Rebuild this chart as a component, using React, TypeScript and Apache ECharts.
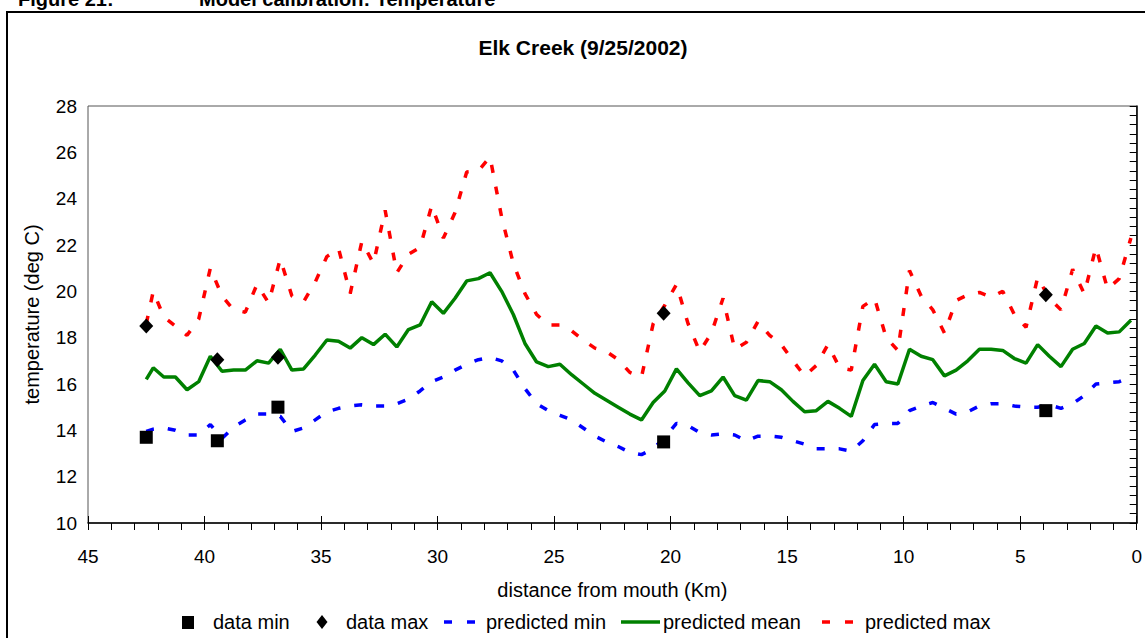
import React, { useEffect, useRef } from "react";
import * as echarts from "echarts";

// Model stations along Elk Creek, distance from mouth (km)
const distanceKm = [
  42.5, 42.2, 41.75, 41.25, 40.75, 40.25, 39.75, 39.25, 38.75, 38.25,
  37.75, 37.25, 36.75, 36.25, 35.75, 35.25, 34.75, 34.25, 33.75, 33.25,
  32.75, 32.25, 31.75, 31.25, 30.75, 30.25, 29.75, 29.25, 28.75, 28.25,
  27.75, 27.25, 26.75, 26.25, 25.75, 25.25, 24.75, 24.25, 23.75, 23.25,
  22.75, 22.25, 21.75, 21.25, 20.75, 20.25, 19.75, 19.25, 18.75, 18.25,
  17.75, 17.25, 16.75, 16.25, 15.75, 15.25, 14.75, 14.25, 13.75, 13.25,
  12.75, 12.25, 11.75, 11.25, 10.75, 10.25, 9.75, 9.25, 8.75, 8.25,
  7.75, 7.25, 6.75, 6.25, 5.75, 5.25, 4.75, 4.25, 3.75, 3.25,
  2.75, 2.25, 1.75, 1.25, 0.75, 0.25,
];

// Predicted daily minimum temperature (deg C)
const predictedMin = [
  13.95, 14.05, 14.1, 14.0, 13.8, 13.8, 14.25, 13.65, 14.15, 14.45,
  14.7, 14.7, 14.6, 13.95, 14.1, 14.45, 14.8, 14.95, 15.05, 15.1,
  15.05, 15.05, 15.15, 15.35, 15.7, 16.1, 16.3, 16.6, 16.85, 17.05,
  17.15, 17.0, 16.6, 15.8, 15.15, 14.85, 14.65, 14.45, 14.1, 13.75,
  13.5, 13.3, 13.05, 12.95, 13.2, 13.7, 14.3, 14.2, 13.9, 13.8,
  13.85, 13.8, 13.55, 13.75, 13.75, 13.7, 13.55, 13.4, 13.2, 13.2,
  13.2, 13.1, 13.55, 14.25, 14.3, 14.3, 14.85, 15.05, 15.2, 14.95,
  14.7, 14.8, 15.05, 15.15, 15.15, 15.05, 15.0, 15.0, 15.1, 14.95,
  15.15, 15.5, 16.0, 16.05, 16.1, 16.3,
];

// Predicted daily mean temperature (deg C)
const predictedMean = [
  16.2, 16.7, 16.3, 16.3, 15.75, 16.1, 17.2, 16.55, 16.6, 16.6,
  17.0, 16.9, 17.5, 16.6, 16.65, 17.25, 17.9, 17.85, 17.55, 18.0,
  17.7, 18.15, 17.6, 18.35, 18.55, 19.55, 19.05, 19.7, 20.45, 20.55,
  20.8, 20.0, 19.0, 17.75, 16.95, 16.75, 16.85, 16.4, 16.0, 15.6,
  15.3, 15.0, 14.7, 14.45, 15.2, 15.7, 16.65, 16.05, 15.5, 15.7,
  16.3, 15.5, 15.3, 16.15, 16.1, 15.75, 15.25, 14.8, 14.85, 15.25,
  14.95, 14.6, 16.15, 16.85, 16.1, 16.0, 17.5, 17.2, 17.05, 16.35,
  16.6, 17.0, 17.5, 17.5, 17.45, 17.1, 16.9, 17.7, 17.2, 16.75,
  17.5, 17.75, 18.5, 18.2, 18.25, 18.75,
];

// Predicted daily maximum temperature (deg C)
const predictedMax = [
  18.6, 20.0, 18.9, 18.5, 18.1, 18.8, 21.0, 19.8, 19.2, 19.1,
  20.3, 19.5, 21.4, 19.8, 19.55, 20.4, 21.5, 21.85, 19.9, 22.15,
  21.2, 23.5, 20.8, 21.6, 21.9, 23.7, 22.3, 23.4, 25.15, 25.2,
  25.8, 23.2, 21.2, 19.9, 19.0, 18.55, 18.55, 18.3, 17.9, 17.55,
  17.4, 17.05, 16.5, 16.3, 18.6, 19.4, 20.3, 18.6, 17.4, 18.2,
  19.7, 17.5, 17.8, 18.7, 18.1, 17.7, 17.0, 16.35, 16.8, 17.7,
  16.7, 16.6, 19.35, 19.7, 18.0, 17.45, 20.9, 19.8, 19.2, 18.2,
  19.6, 19.85, 19.95, 19.75, 20.0, 19.0, 18.45, 20.6, 19.7, 19.2,
  20.95, 19.9, 21.9, 20.1, 20.55, 22.3,
];

// Observed data at sampling sites
const sampleKm = [42.5, 39.45, 36.85, 20.3, 3.9];
const dataMin = [13.7, 13.55, 15.0, 13.5, 14.85];
const dataMax = [18.5, 17.05, 17.15, 19.05, 19.85];

const FONT = "'Liberation Sans', Arial, Helvetica, sans-serif";
const BLUE = "#0000ff";
const GREEN = "#008000";
const RED = "#ff0000";
const DASH = [8, 14];

const pairs = (xs: number[], ys: number[]) => xs.map((x, i) => [x, ys[i]]);

const legendText = (x: number, text: string) => ({
  type: "text",
  x,
  y: 622,
  style: { text, fontSize: 20, fontFamily: FONT, fill: "#000", verticalAlign: "middle", align: "left" },
});

const legendLine = (x1: number, x2: number, color: string) => ({
  type: "line",
  shape: { x1, y1: 622, x2, y2: 622 },
  style: { stroke: color, lineWidth: 3.5 },
});

export default function App() {
  const ref = useRef<HTMLDivElement>(null);

  useEffect(() => {
    const chart = echarts.init(ref.current!, null, { renderer: "svg" });
    const axisText = { fontSize: 19, color: "#000", fontFamily: FONT };
    chart.setOption({
      animation: false,
      backgroundColor: "#ffffff",
      grid: {
        left: 88,
        top: 106,
        width: 1049,
        height: 417,
        show: true,
        borderColor: "#555",
        borderWidth: 1,
        backgroundColor: "transparent",
      },
      xAxis: [
        {
          type: "value",
          min: 0,
          max: 45,
          interval: 5,
          inverse: true,
          position: "bottom",
          name: "distance from mouth (Km)",
          nameLocation: "middle",
          nameGap: 57,
          nameTextStyle: { fontSize: 20, color: "#000", fontFamily: FONT },
          axisLine: { show: true, onZero: false, lineStyle: { color: "#000", width: 1.5 } },
          axisTick: { show: true, length: 7, lineStyle: { color: "#000", width: 1 } },
          minorTick: { show: true, splitNumber: 5, length: 7, lineStyle: { color: "#000", width: 1 } },
          axisLabel: { ...axisText, margin: 24 },
          splitLine: { show: false },
          minorSplitLine: { show: false },
        },
        {
          type: "value",
          min: 0,
          max: 45,
          interval: 5,
          inverse: true,
          position: "bottom",
          axisLine: { show: false },
          axisTick: { show: true, inside: true, length: 7, lineStyle: { color: "#000", width: 1 } },
          axisLabel: { show: false },
          splitLine: { show: false },
        },
      ],
      yAxis: {
        type: "value",
        min: 10,
        max: 28,
        interval: 2,
        name: "temperature (deg C)",
        nameLocation: "middle",
        nameGap: 46,
        nameRotate: 90,
        nameTextStyle: { fontSize: 20, color: "#000", fontFamily: FONT },
        axisLine: { show: true, lineStyle: { color: "#000", width: 1.5 } },
        axisTick: { show: true, length: 7, lineStyle: { color: "#000", width: 1 } },
        minorTick: { show: true, splitNumber: 5, length: 7, lineStyle: { color: "#000", width: 1 } },
        axisLabel: { ...axisText, margin: 11 },
        splitLine: { show: false },
        minorSplitLine: { show: false },
      },
      series: [
        {
          name: "data min",
          type: "scatter",
          symbol: "rect",
          symbolSize: 13,
          itemStyle: { color: "#000", opacity: 1 },
          z: 4,
          data: pairs(sampleKm, dataMin),
        },
        {
          name: "data max",
          type: "scatter",
          symbol: "diamond",
          symbolSize: [14, 15],
          itemStyle: { color: "#000", opacity: 1 },
          z: 4,
          data: pairs(sampleKm, dataMax),
        },
        {
          name: "predicted min",
          type: "line",
          showSymbol: false,
          symbol: "none",
          lineStyle: { color: BLUE, width: 3.5, type: DASH },
          data: pairs(distanceKm, predictedMin),
        },
        {
          name: "predicted mean",
          type: "line",
          showSymbol: false,
          symbol: "none",
          lineStyle: { color: GREEN, width: 3.5 },
          data: pairs(distanceKm, predictedMean),
        },
        {
          name: "predicted max",
          type: "line",
          showSymbol: false,
          symbol: "none",
          lineStyle: { color: RED, width: 3.5, type: DASH },
          data: pairs(distanceKm, predictedMax),
        },
      ],
      graphic: [
        {
          type: "rect",
          shape: { x: 7, y: 12, width: 1160, height: 660 },
          style: { fill: "none", stroke: "#000", lineWidth: 2 },
          silent: true,
        },
        {
          type: "text",
          x: 18,
          y: -1,
          style: { text: "Figure 21:", fontSize: 20, fontWeight: "bold", fontFamily: FONT, fill: "#000", verticalAlign: "middle" },
        },
        {
          type: "text",
          x: 199,
          y: -1,
          style: { text: "Model calibration: Temperature", fontSize: 20, fontWeight: "bold", fontFamily: FONT, fill: "#000", verticalAlign: "middle" },
        },
        {
          type: "text",
          x: 583,
          y: 47,
          style: { text: "Elk Creek (9/25/2002)", fontSize: 21, fontWeight: "bold", fontFamily: FONT, fill: "#000", align: "center", verticalAlign: "middle" },
        },
        { type: "rect", shape: { x: 182, y: 616, width: 12, height: 13 }, style: { fill: "#000" } },
        legendText(213, "data min"),
        { type: "polygon", shape: { points: [[322, 615], [327.5, 622], [322, 629], [316.5, 622]] }, style: { fill: "#000" } },
        legendText(346, "data max"),
        legendLine(444, 452, BLUE),
        legendLine(467, 475, BLUE),
        legendText(486, "predicted min"),
        legendLine(621, 660, GREEN),
        legendText(663, "predicted mean"),
        legendLine(822, 830, RED),
        legendLine(845, 853, RED),
        legendText(865, "predicted max"),
      ],
    });
    return () => chart.dispose();
  }, []);

  return (
    <div
      ref={ref}
      style={{ position: "absolute", left: 0, top: 0, width: 1145, height: 638, background: "#fff" }}
    />
  );
}
